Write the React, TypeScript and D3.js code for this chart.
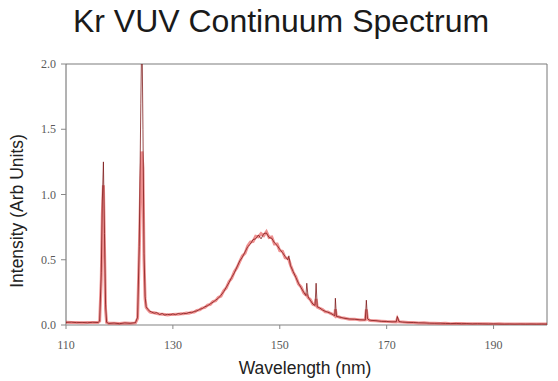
import React from "react";
import * as d3 from "d3";

const wavelengths = [
  110, 111, 112, 113, 114, 115, 116, 116.3, 116.6, 116.8, 117.0, 117.2, 117.4, 117.6,
  118, 119, 120, 121, 122, 123, 123.4, 123.7, 124.0, 124.2, 124.4, 124.6, 124.8, 125.0,
  125.3, 125.7, 126, 126.5, 127, 127.5, 128, 128.5, 129, 129.5, 130, 130.5, 131, 131.5,
  132, 132.5, 133, 133.5, 134, 134.5, 135, 135.5, 136, 136.5, 137, 137.5, 138, 138.5,
  139, 139.5, 140, 140.5, 141, 141.5, 142, 142.5, 143, 143.5, 144, 144.5, 145, 145.5,
  146, 146.5, 147, 147.5, 148, 148.5, 149, 149.5, 150, 150.5, 151, 151.5, 151.7, 152,
  152.5, 153, 153.5, 154, 154.5, 154.9, 155.05, 155.3, 155.7, 156.2, 156.6, 156.8, 157.0,
  157.5, 158, 158.5, 159, 159.5, 160, 160.3, 160.4, 160.6, 161.5, 162, 163, 164, 165,
  166.0, 166.2, 166.4, 166.7, 167, 168, 169, 170, 171, 171.8, 172.0, 172.3, 173, 174,
  175, 176, 177, 178, 179, 180, 181, 182, 183, 184, 185, 186, 187, 188, 189, 190, 191,
  192, 193, 194, 195, 196, 197, 198, 199, 200,
];

const darkTrace = [
  0.02, 0.022, 0.018, 0.02, 0.017, 0.021, 0.019, 0.03, 0.4, 0.95, 1.25, 0.7, 0.16, 0.02,
  0.012, 0.015, 0.01, 0.016, 0.013, 0.018, 0.06, 0.6, 1.7, 2.3, 1.5, 0.55, 0.22, 0.14,
  0.12, 0.105, 0.1, 0.09, 0.095, 0.08, 0.088, 0.076, 0.082, 0.078, 0.085, 0.079, 0.088, 0.083,
  0.09, 0.087, 0.096, 0.094, 0.104, 0.108, 0.12, 0.126, 0.14, 0.148, 0.162, 0.175, 0.19, 0.205,
  0.228, 0.255, 0.29, 0.325, 0.365, 0.4, 0.445, 0.49, 0.52, 0.56, 0.6, 0.62, 0.655, 0.66,
  0.69, 0.66, 0.7, 0.705, 0.67, 0.665, 0.63, 0.61, 0.58, 0.555, 0.525, 0.5, 0.53, 0.455,
  0.41, 0.365, 0.32, 0.285, 0.25, 0.225, 0.32, 0.215, 0.19, 0.16, 0.15, 0.32, 0.14,
  0.13, 0.115, 0.105, 0.098, 0.09, 0.078, 0.072, 0.205, 0.066, 0.058, 0.052, 0.046, 0.044, 0.04,
  0.038, 0.19, 0.05, 0.038, 0.036, 0.033, 0.028, 0.027, 0.024, 0.025, 0.065, 0.026, 0.022, 0.02,
  0.019, 0.017, 0.016, 0.014, 0.013, 0.014, 0.012, 0.011, 0.012, 0.01, 0.011, 0.009, 0.01, 0.009, 0.008, 0.009, 0.008,
  0.007, 0.008, 0.007, 0.008, 0.007, 0.008, 0.007, 0.008, 0.007,
];

const redTrace = [
  0.021, 0.019, 0.02, 0.018, 0.02, 0.019, 0.02, 0.03, 0.35, 0.85, 1.07, 0.6, 0.12, 0.02,
  0.014, 0.013, 0.012, 0.015, 0.014, 0.016, 0.05, 0.55, 1.1, 1.33, 1.2, 0.5, 0.2, 0.135,
  0.118, 0.1, 0.095, 0.094, 0.088, 0.084, 0.082, 0.08, 0.077, 0.081, 0.08, 0.083, 0.082, 0.086,
  0.087, 0.092, 0.091, 0.098, 0.1, 0.112, 0.116, 0.13, 0.135, 0.152, 0.158, 0.18, 0.186, 0.212,
  0.222, 0.262, 0.285, 0.332, 0.358, 0.408, 0.44, 0.485, 0.53, 0.55, 0.605, 0.635, 0.64, 0.68,
  0.675, 0.7, 0.685, 0.715, 0.67, 0.675, 0.62, 0.62, 0.57, 0.565, 0.515, 0.51, 0.5, 0.46,
  0.405, 0.37, 0.315, 0.29, 0.245, 0.23, 0.23, 0.21, 0.195, 0.158, 0.152, 0.2, 0.138,
  0.128, 0.118, 0.102, 0.1, 0.088, 0.08, 0.07, 0.12, 0.068, 0.056, 0.054, 0.045, 0.045, 0.039,
  0.04, 0.12, 0.048, 0.037, 0.035, 0.032, 0.029, 0.026, 0.025, 0.024, 0.05, 0.025, 0.023, 0.019,
  0.02, 0.016, 0.017, 0.013, 0.014, 0.012, 0.013, 0.01, 0.012, 0.011, 0.01, 0.01, 0.009, 0.01, 0.009, 0.008, 0.009,
  0.008, 0.007, 0.008, 0.007, 0.008, 0.007, 0.008, 0.007, 0.008,
];

const xTicks = [110, 130, 150, 170, 190];
const yTicks = [0, 0.5, 1.0, 1.5, 2.0];

const title = "Kr VUV Continuum Spectrum";
const xLabel = "Wavelength (nm)";
const yLabel = "Intensity (Arb Units)";

export default function App() {
  const W = 558;
  const H = 381;
  const left = 66;
  const right = 547;
  const top = 64;
  const bottom = 325;

  const x = d3.scaleLinear().domain([110, 200]).range([left, right]);
  const y = d3.scaleLinear().domain([0, 2]).range([bottom, top]);

  const line = (vals: number[]) =>
    d3
      .line<number>()
      .x((_, i) => x(wavelengths[i]))
      .y((d) => y(d))(vals) || "";

  const serif = "'Liberation Serif', 'Times New Roman', serif";
  const sans = "'Liberation Sans', Arial, sans-serif";

  return (
    <svg
      width={W}
      height={H}
      style={{ position: "absolute", left: 0, top: 0, background: "#fff" }}
    >
      <defs>
        <clipPath id="plot">
          <rect x={left} y={top} width={right - left} height={bottom - top} />
        </clipPath>
      </defs>
      <rect x={0} y={0} width={W} height={H} fill="#fff" />
      <text x={281} y={32} textAnchor="middle" fontFamily={sans} fontSize={32} fill="#1a1a1a">
        {title}
      </text>

      <line x1={left} x2={right} y1={top} y2={top} stroke="#bdbdbd" strokeWidth={2} />
      <line x1={right} x2={right} y1={top} y2={bottom} stroke="#777" strokeWidth={1} />
      <line x1={left} x2={left} y1={top} y2={bottom} stroke="#666" strokeWidth={1} />
      <line x1={left} x2={right} y1={bottom} y2={bottom} stroke="#ababab" strokeWidth={1.5} />

      {yTicks.map((t) => (
        <g key={"y" + t}>
          <line x1={left - 5} x2={left} y1={y(t)} y2={y(t)} stroke="#888" strokeWidth={1} />
          <text
            x={left - 10}
            y={y(t)}
            dy="0.35em"
            textAnchor="end"
            fontFamily={serif}
            fontSize={12}
            fill="#5a5a5a"
          >
            {t.toFixed(1)}
          </text>
        </g>
      ))}
      {xTicks.map((t) => (
        <g key={"x" + t}>
          <line x1={x(t)} x2={x(t)} y1={bottom} y2={bottom + 4} stroke="#888" strokeWidth={1} />
          <text x={x(t)} y={349} textAnchor="middle" fontFamily={serif} fontSize={12} fill="#5a5a5a">
            {t}
          </text>
        </g>
      ))}

      <g clipPath="url(#plot)">
        <path d={line(redTrace)} fill="none" stroke="#e02424" strokeOpacity={0.5} strokeWidth={3} />
        <path d={line(darkTrace)} fill="none" stroke="#7a1414" strokeWidth={0.9} strokeOpacity={0.85} />
      </g>

      <text x={305} y={374} textAnchor="middle" fontFamily={sans} fontSize={17.5} fill="#222">
        {xLabel}
      </text>
      <text
        transform="translate(23,211) rotate(-90)"
        textAnchor="middle"
        fontFamily={sans}
        fontSize={17.5}
        fill="#222"
      >
        {yLabel}
      </text>
    </svg>
  );
}
